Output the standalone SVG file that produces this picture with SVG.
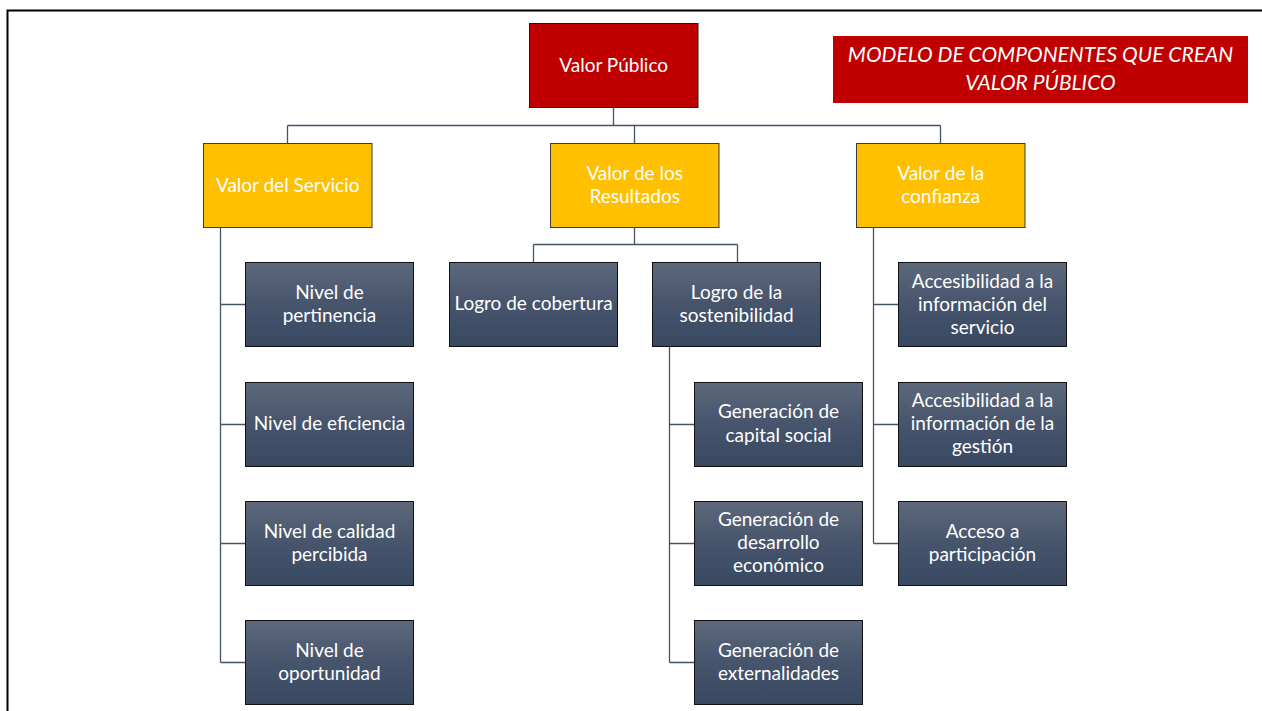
<svg xmlns="http://www.w3.org/2000/svg" width="1262" height="711" viewBox="0 0 1262 711">
  <defs>
    <linearGradient id="slate" x1="0" y1="0" x2="0" y2="1">
      <stop offset="0" stop-color="#5d687b"/>
      <stop offset="0.5" stop-color="#46546c"/>
      <stop offset="1" stop-color="#394962"/>
    </linearGradient>
    <style>
      .frame { fill: #ffffff; stroke: #000000; stroke-width: 2; }
      .root { fill: #c00000; stroke: #1a1a1a; stroke-width: 1; }
      .tier { fill: #ffc000; stroke: #3a3a3a; stroke-width: 1; }
      .leaf { fill: url(#slate); stroke: #111111; stroke-width: 1; }
      .banner { fill: #c00000; }
      .lbl { font-family: Lato, "Liberation Sans", sans-serif; font-size: 19px; fill: #ffffff; text-anchor: middle; }
      .ttl { font-family: Lato, "Liberation Sans", sans-serif; font-size: 21px; font-style: italic; fill: #ffffff; text-anchor: middle; }
      .wire { fill: none; stroke: #44546a; stroke-width: 1.3; }
    </style>
  </defs>

  <!-- page frame -->
  <rect class="frame" x="7.5" y="10.5" width="1260" height="720"/>

  <!-- connectors -->
  <g id="connectors">
    <path class="wire" d="M613.5 107 V125.5 M287.5 125.5 H940.5 M287.5 125.5 V143 M634.5 125.5 V143 M940.5 125.5 V143"/>
    <path class="wire" d="M220.5 227 V662.5 M220.5 304.5 H245 M220.5 424.5 H245 M220.5 543.5 H245 M220.5 662.5 H245"/>
    <path class="wire" d="M634.5 227 V244.5 M533.5 244.5 H737.5 M533.5 244.5 V262 M737.5 244.5 V262"/>
    <path class="wire" d="M669.5 347 V662.5 M669.5 424.5 H694 M669.5 543.5 H694 M669.5 662.5 H694"/>
    <path class="wire" d="M873.5 227 V543.5 M873.5 304.5 H898 M873.5 424.5 H898 M873.5 543.5 H898"/>
  </g>

  <!-- banner -->
  <g id="banner">
    <rect class="banner" x="833" y="36" width="415" height="67"/>
    <text class="ttl" x="1040.5" y="62">MODELO DE COMPONENTES QUE CREAN</text>
    <text class="ttl" x="1040.5" y="90">VALOR PÚBLICO</text>
  </g>

  <!-- root -->
  <g id="valor-publico">
    <rect class="root" x="529.5" y="23.5" width="168.5" height="84"/>
    <text class="lbl" x="613.7" y="71.5">Valor Público</text>
  </g>

  <!-- second tier -->
  <g id="valor-servicio">
    <rect class="tier" x="203.5" y="143.5" width="168.5" height="84"/>
    <text class="lbl" x="287.7" y="191.5">Valor del Servicio</text>
  </g>
  <g id="valor-resultados">
    <rect class="tier" x="550.5" y="143.5" width="168.5" height="84"/>
    <text class="lbl" x="634.7" y="179.5">Valor de los</text>
    <text class="lbl" x="634.7" y="202.5">Resultados</text>
  </g>
  <g id="valor-confianza">
    <rect class="tier" x="856.5" y="143.5" width="168.5" height="84"/>
    <text class="lbl" x="940.7" y="179.5">Valor de la</text>
    <text class="lbl" x="940.7" y="202.5">confianza</text>
  </g>

  <!-- servicio leaves -->
  <g id="nivel-pertinencia">
    <rect class="leaf" x="245.5" y="262.5" width="168" height="84"/>
    <text class="lbl" x="329.5" y="298.5">Nivel de</text>
    <text class="lbl" x="329.5" y="321.5">pertinencia</text>
  </g>
  <g id="nivel-eficiencia">
    <rect class="leaf" x="245.5" y="382.5" width="168" height="84"/>
    <text class="lbl" x="329.5" y="429.5">Nivel de eficiencia</text>
  </g>
  <g id="nivel-calidad">
    <rect class="leaf" x="245.5" y="501.5" width="168" height="84"/>
    <text class="lbl" x="329.5" y="537.5">Nivel de calidad</text>
    <text class="lbl" x="329.5" y="560.5">percibida</text>
  </g>
  <g id="nivel-oportunidad">
    <rect class="leaf" x="245.5" y="620.5" width="168" height="84"/>
    <text class="lbl" x="329.5" y="656.5">Nivel de</text>
    <text class="lbl" x="329.5" y="679.5">oportunidad</text>
  </g>

  <!-- resultados leaves -->
  <g id="logro-cobertura">
    <rect class="leaf" x="449.5" y="262.5" width="168" height="84"/>
    <text class="lbl" x="533.5" y="310">Logro de cobertura</text>
  </g>
  <g id="logro-sostenibilidad">
    <rect class="leaf" x="652.5" y="262.5" width="168" height="84"/>
    <text class="lbl" x="736.5" y="298.5">Logro de la</text>
    <text class="lbl" x="736.5" y="321.5">sostenibilidad</text>
  </g>
  <g id="gen-capital">
    <rect class="leaf" x="694.5" y="382.5" width="168" height="84"/>
    <text class="lbl" x="778.5" y="417.5">Generación de</text>
    <text class="lbl" x="778.5" y="441.5">capital social</text>
  </g>
  <g id="gen-desarrollo">
    <rect class="leaf" x="694.5" y="501.5" width="168" height="84"/>
    <text class="lbl" x="778.5" y="525.5">Generación de</text>
    <text class="lbl" x="778.5" y="548.5">desarrollo</text>
    <text class="lbl" x="778.5" y="571.5">económico</text>
  </g>
  <g id="gen-externalidades">
    <rect class="leaf" x="694.5" y="620.5" width="168" height="84"/>
    <text class="lbl" x="778.5" y="656.5">Generación de</text>
    <text class="lbl" x="778.5" y="679.5">externalidades</text>
  </g>

  <!-- confianza leaves -->
  <g id="acceso-info-servicio">
    <rect class="leaf" x="898.5" y="262.5" width="168" height="84"/>
    <text class="lbl" x="982.5" y="287.5">Accesibilidad a la</text>
    <text class="lbl" x="982.5" y="310.5">información del</text>
    <text class="lbl" x="982.5" y="333.5">servicio</text>
  </g>
  <g id="acceso-info-gestion">
    <rect class="leaf" x="898.5" y="382.5" width="168" height="84"/>
    <text class="lbl" x="982.5" y="406.5">Accesibilidad a la</text>
    <text class="lbl" x="982.5" y="429.5">información de la</text>
    <text class="lbl" x="982.5" y="452.5">gestión</text>
  </g>
  <g id="acceso-participacion">
    <rect class="leaf" x="898.5" y="501.5" width="168" height="84"/>
    <text class="lbl" x="982.5" y="537.5">Acceso a</text>
    <text class="lbl" x="982.5" y="560.5">participación</text>
  </g>
</svg>
